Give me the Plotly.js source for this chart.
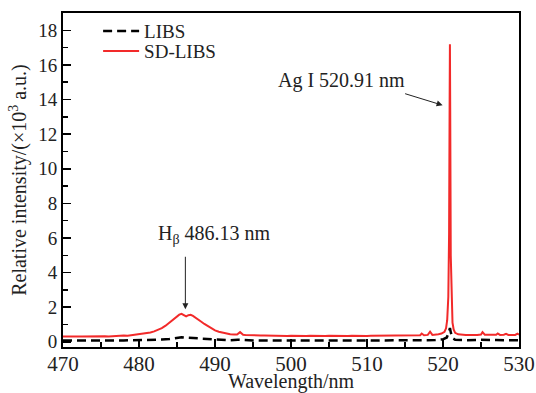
<!DOCTYPE html>
<html>
<head>
<meta charset="utf-8">
<script src="https://cdn.plot.ly/plotly-3.0.1.min.js"></script>
<style>html,body{margin:0;padding:0;background:#fff;}#chart{width:536px;height:393px;}</style>
</head>
<body>
<div id="chart"></div>
<script>
// SD-LIBS spectrum (red), wavelength in nm, intensity in 10^3 a.u.
var sdWavelength = [
  470.0,470.5,471.0,471.5,472.0,472.5,473.0,473.5,474.0,474.5,
  475.0,475.5,476.0,476.5,477.0,477.5,478.0,478.5,479.0,479.5,
  480.0,480.5,481.0,481.5,482.0,482.5,483.0,483.5,484.0,484.5,
  485.0,485.3,485.6,485.9,486.2,486.5,486.8,487.1,487.4,487.8,
  488.2,488.6,489.0,489.5,490.0,490.5,491.0,491.5,492.0,492.5,
  492.9,493.3,493.7,494.0,494.5,495.0,495.5,496.0,496.5,497.0,
  497.5,498.0,498.5,499.0,499.5,500.0,500.5,501.0,501.5,502.0,
  502.5,503.0,503.5,504.0,504.5,505.0,505.5,506.0,506.5,507.0,
  507.5,508.0,508.5,509.0,509.5,510.0,510.5,511.0,511.5,512.0,
  512.5,513.0,513.5,514.0,514.5,515.0,515.5,516.0,516.5,517.0,
  517.2,517.5,518.0,518.3,518.6,519.0,519.4,519.8,520.2,520.4,
  520.55,520.7,520.8,520.87,520.91,520.95,521.02,521.12,521.25,521.4,
  521.6,522.0,522.5,523.0,523.5,524.0,524.5,525.0,525.2,525.5,
  526.0,526.5,527.0,527.2,527.5,528.0,528.3,528.6,529.0,529.5,529.8,530.0
];
var sdIntensity = [
  0.30,0.31,0.29,0.31,0.30,0.30,0.31,0.30,0.32,0.31,
  0.31,0.32,0.31,0.33,0.33,0.34,0.36,0.35,0.38,0.40,
  0.42,0.45,0.49,0.54,0.60,0.68,0.79,0.93,1.10,1.30,
  1.48,1.57,1.62,1.56,1.47,1.54,1.56,1.50,1.42,1.30,
  1.16,1.03,0.91,0.78,0.66,0.58,0.52,0.47,0.44,0.42,
  0.42,0.56,0.41,0.40,0.38,0.37,0.37,0.36,0.36,0.35,
  0.36,0.35,0.34,0.35,0.34,0.35,0.34,0.35,0.34,0.34,
  0.35,0.34,0.35,0.34,0.34,0.35,0.34,0.35,0.34,0.35,
  0.34,0.35,0.34,0.35,0.35,0.34,0.35,0.35,0.34,0.36,
  0.35,0.35,0.36,0.35,0.36,0.36,0.35,0.37,0.36,0.38,
  0.48,0.38,0.40,0.58,0.40,0.41,0.44,0.48,0.58,0.78,
  1.25,2.60,6.20,13.6,17.2,13.4,5.00,2.20,1.10,0.72,
  0.52,0.43,0.40,0.39,0.40,0.39,0.40,0.42,0.56,0.41,
  0.40,0.39,0.41,0.48,0.40,0.41,0.46,0.40,0.41,0.40,0.47,0.42
];
// LIBS spectrum (black dashed)
var libsWavelength = [
  470,471,472,473,474,475,476,477,478,479,
  480,481,482,483,484,485,485.6,486.2,487,488,
  489,490,491,492,493,494,495,497,499,501,
  503,505,507,509,511,513,515,517,518,519,
  520,520.5,520.8,520.91,521.05,521.3,521.6,522,523,525,
  526,527,528,529,530
];
var libsIntensity = [
  0.08,0.07,0.08,0.07,0.08,0.08,0.07,0.08,0.08,0.09,
  0.09,0.10,0.11,0.13,0.16,0.22,0.27,0.24,0.22,0.17,
  0.13,0.11,0.10,0.09,0.12,0.08,0.08,0.07,0.08,0.07,
  0.08,0.07,0.08,0.07,0.08,0.08,0.07,0.09,0.10,0.10,
  0.14,0.25,0.60,0.80,0.50,0.20,0.12,0.10,0.09,0.12,
  0.09,0.10,0.09,0.10,0.09
];
var seriesNames = ["LIBS", "SD-LIBS"];
var xTickVals = [470, 480, 490, 500, 510, 520, 530];
var yTickVals = [0, 2, 4, 6, 8, 10, 12, 14, 16, 18];

var FONT = "'Liberation Serif', 'Times New Roman', serif";

var traces = [
  {x: libsWavelength, y: libsIntensity, name: seriesNames[0], type: "scatter", mode: "lines",
   legend: "legend",
   line: {color: "#000", width: 2.5, dash: "9px,5px"}},
  {x: sdWavelength, y: sdIntensity, name: seriesNames[1], type: "scatter", mode: "lines",
   legend: "legend2",
   line: {color: "#f22a2a", width: 2}}
];

var legendCommon = {xanchor: "left", yanchor: "middle", bgcolor: "rgba(0,0,0,0)",
                    itemwidth: 36, font: {family: FONT, size: 19, color: "#222"}};

var layout = {
  width: 536, height: 393,
  margin: {l: 63, r: 17, t: 13, b: 46},
  paper_bgcolor: "#fff", plot_bgcolor: "#fff",
  font: {family: FONT, color: "#222", size: 19},
  showlegend: true,
  legend: Object.assign({x: 0.077, y: 0.946}, legendCommon),
  legend2: Object.assign({x: 0.077, y: 0.886}, legendCommon),
  xaxis: {
    range: [470, 530], tickvals: xTickVals, ticktext: xTickVals.map(String),
    ticks: "inside", ticklen: 8, tickwidth: 1.5, tickcolor: "#000",
    ticklabelstandoff: -3,
    minor: {ticks: "inside", dtick: 5, ticklen: 5, tickwidth: 1.5, tickcolor: "#000"},
    showline: true, linecolor: "#000", linewidth: 2, mirror: true,
    showgrid: false, zeroline: false,
    tickfont: {family: FONT, size: 21, color: "#222"},
    title: {text: "Wavelength/nm", font: {family: FONT, size: 20, color: "#222"}, standoff: 8}
  },
  yaxis: {
    range: [-0.3, 19], tickvals: yTickVals, ticktext: yTickVals.map(String),
    ticks: "inside", ticklen: 8, tickwidth: 1.5, tickcolor: "#000",
    minor: {ticks: "inside", dtick: 1, ticklen: 5, tickwidth: 1.5, tickcolor: "#000"},
    showline: true, linecolor: "#000", linewidth: 2, mirror: true,
    showgrid: false, zeroline: false,
    tickfont: {family: FONT, size: 19, color: "#222"},
    title: {text: "Relative intensity/(×10<sup>3</sup> a.u.)", font: {family: FONT, size: 20, color: "#222"}, standoff: 6}
  },
  annotations: [
    {x: 489.97, y: 6.21, xref: "x", yref: "y", text: "H<sub>β</sub> 486.13 nm", showarrow: false,
     font: {family: FONT, size: 20, color: "#222"}},
    {x: 486.1, y: 1.88, xref: "x", yref: "y", text: "", showarrow: true, ax: 0, ay: -54,
     arrowhead: 2, arrowsize: 1.2, arrowwidth: 1, arrowcolor: "#222"},
    {x: 506.7, y: 15.12, xref: "x", yref: "y", text: "Ag I 520.91 nm", showarrow: false,
     font: {family: FONT, size: 20, color: "#222"}},
    {x: 519.95, y: 13.67, xref: "x", yref: "y", text: "", showarrow: true, ax: -39, ay: -12,
     arrowhead: 2, arrowsize: 1.2, arrowwidth: 1, arrowcolor: "#222"}
  ]
};

Plotly.newPlot("chart", traces, layout, {displayModeBar: false, staticPlot: true});
</script>
</body>
</html>
